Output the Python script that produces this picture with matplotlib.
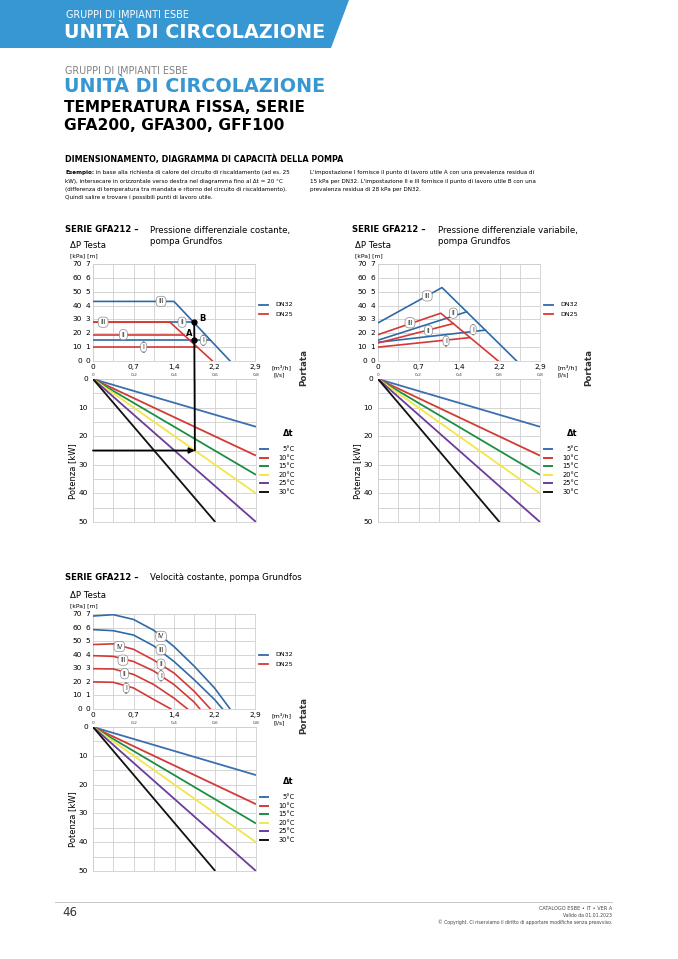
import numpy as np
import matplotlib

matplotlib.use("Agg")

import matplotlib.pyplot as plt
from matplotlib import transforms
from matplotlib.patches import ConnectionPatch, Polygon

W, H = 678, 959
BLUE = "#2f6aa6"
RED = "#d33a36"
BANNER = "#3797d3"
GRID = "#cfcfcf"

# ---- data ----
flow_ticks = [0, 0.2, 0.4, 0.6, 0.8]  # l/s
flow_m3h_labels = ["0", "0,7", "1,4", "2,2", "2,9"]
flow_ls_labels = ["0", "0,2", "0,4", "0,6", "0,8"]
head_kpa = [0, 10, 20, 30, 40, 50, 60, 70]
head_m = [0, 1, 2, 3, 4, 5, 6, 7]
power_ticks = [0, 10, 20, 30, 40, 50]

dt_labels = ["5°C", "10°C", "15°C", "20°C", "25°C", "30°C"]
dt_colors = ["#3a6fb0", "#d33a36", "#1d8f43", "#f2e64a", "#6a3d9a", "#111111"]
dt_flow_end = [0.8, 0.8, 0.8, 0.8, 0.8, 0.6]
dt_power_end = [16.7, 26.8, 33.5, 40, 50, 50]

# constant differential pressure (I, II, III)
cp_dn32_x = [[0, 0.58], [0, 0.497], [0, 0.4, 0.677]]
cp_dn32_y = [[15, 15], [28, 28], [43, 43, 0]]
cp_dn25_x = [[0, 0.515], [0, 0.447], [0, 0.38, 0.59]]
cp_dn25_y = [[10, 10], [19, 19], [28, 28, 0]]
work_flow = 0.5
work_power = 25
point_a = 15
point_b = 28

# variable differential pressure (I, II, III)
vp_dn32_x = [[0, 0.53], [0, 0.438], [0, 0.316, 0.685]]
vp_dn32_y = [[13.5, 22.3], [15, 35.5], [27.5, 53, 0]]
vp_dn25_x = [[0, 0.455], [0, 0.372], [0, 0.31, 0.594]]
vp_dn25_y = [[10, 16.9], [13, 27], [19, 34.5, 0]]

# constant speed (DN32: III, IV ; DN25: I..IV)
cs_dn32_x = [[0, 0.1, 0.2, 0.3, 0.4, 0.5, 0.6, 0.64],
             [0, 0.1, 0.2, 0.3, 0.4, 0.5, 0.6, 0.677]]
cs_dn32_y = [[58.5, 57.7, 54.5, 46.5, 35, 21.5, 7, 0],
             [68.5, 69.5, 66, 58, 46, 31.5, 15.5, 0]]
cs_dn25_x = [[0, 0.1, 0.2, 0.3, 0.385],
             [0, 0.1, 0.2, 0.3, 0.4, 0.467],
             [0, 0.1, 0.2, 0.3, 0.4, 0.5, 0.528],
             [0, 0.1, 0.2, 0.3, 0.4, 0.5, 0.58]]
cs_dn25_y = [[20, 19.7, 15.5, 7, 0],
             [29.7, 29.5, 25.5, 18, 8, 0],
             [39.3, 38.8, 35, 28, 18, 5, 0],
             [47.5, 48, 44, 36, 26.5, 13, 0]]

fig = plt.figure(figsize=(W / 100, H / 100), dpi=100)
bg = fig.add_axes([0, 0, 1, 1])
bg.set_xlim(0, W)
bg.set_ylim(H, 0)
bg.axis("off")


def add_axes_px(left, top, right, bottom):
    return fig.add_axes([left / W, 1 - bottom / H, (right - left) / W, (bottom - top) / H])


def shift(trans, dx, dy):
    return transforms.offset_copy(trans, fig=fig, x=dx, y=dy, units="dots")


def boxed(ax, x, y, s):
    ax.text(x, y, s, fontsize=4.8, ha="center", va="center", color="#333", zorder=5,
            bbox=dict(boxstyle="round,pad=0.32,rounding_size=0.6", fc="white", ec="#8a8a8a", lw=0.5))


def style_grid(ax):
    ax.grid(True, color=GRID, linewidth=0.6)
    ax.set_axisbelow(True)
    ax.tick_params(length=0, labelbottom=False, labelleft=False)
    for spine in ax.spines.values():
        spine.set_color(GRID)
        spine.set_linewidth(0.6)


def pressure_chart(left, top, right, bottom):
    ax = add_axes_px(left, top, right, bottom)
    ax.set_xlim(0, 0.8)
    ax.set_ylim(0, 70)
    ax.set_xticks(np.arange(0, 0.81, 0.1))
    ax.set_yticks(head_kpa)
    style_grid(ax)
    tr_kpa = shift(ax.get_yaxis_transform(), -11, 0)
    tr_m = shift(ax.get_yaxis_transform(), -5, 0)
    for kpa, m in zip(head_kpa, head_m):
        ax.text(0, kpa, str(kpa), transform=tr_kpa, ha="right", va="center", fontsize=5.3)
        ax.text(0, kpa, str(m), transform=tr_m, ha="center", va="center", fontsize=5.3)
    tr_x = shift(ax.get_xaxis_transform(), 0, -6)
    for v, lab in zip(flow_ticks, flow_m3h_labels):
        ax.text(v, 0, lab, transform=tr_x, ha="center", va="center", fontsize=5.3)
    ax.text(1, 0, "[m³/h]", transform=shift(ax.transAxes, 27, -6), ha="center", va="center", fontsize=4.6)
    # head label
    bg.text(left - 23, top - 19, "ΔP Testa", fontsize=6.2, ha="left", va="center")
    bg.text(left - 23, top - 8, "[kPa] [m]", fontsize=4.3, ha="left", va="center")
    # DN legend
    for i, (lab, col) in enumerate([("DN32", BLUE), ("DN25", RED)]):
        yy = top + 41 + 9 * i
        bg.plot([right + 4, right + 13], [yy, yy], color=col, lw=1.3)
        bg.text(right + 20, yy, lab, fontsize=4.6, ha="left", va="center")
    bg.text(right + 49, bottom + 7, "Portata", fontsize=6.3, rotation=90, ha="center", va="center",
            fontweight="bold", color="#333")
    return ax


def power_chart(left, top, right, bottom):
    ax = add_axes_px(left, top, right, bottom)
    ax.set_xlim(0, 0.8)
    ax.set_ylim(50, 0)
    ax.set_xticks(np.arange(0, 0.81, 0.1))
    ax.set_yticks(np.arange(0, 51, 5))
    style_grid(ax)
    tr_y = shift(ax.get_yaxis_transform(), -5, 0)
    for v in power_ticks:
        ax.text(0, v, str(v), transform=tr_y, ha="right", va="center", fontsize=5.3)
    tr_x = shift(ax.get_xaxis_transform(), 0, 4)
    for v, lab in zip(flow_ticks, flow_ls_labels):
        ax.text(v, 1, lab, transform=tr_x, ha="center", va="center", fontsize=3.2, color="#444")
    ax.text(1, 1, "[l/s]", transform=shift(ax.transAxes, 23, 4), ha="center", va="center", fontsize=4.2)
    for xe, pe, col in zip(dt_flow_end, dt_power_end, dt_colors):
        ax.plot([0, xe], [0, pe], color=col, lw=1.3, solid_capstyle="butt", zorder=3)
    bg.text(left - 20, top + 92, "Potenza [kW]", fontsize=6, rotation=90, ha="center", va="center")
    bg.text(right + 32, top + 54, "Δt", fontsize=6, fontweight="bold", ha="center", va="center")
    for i, (lab, col) in enumerate(zip(dt_labels, dt_colors)):
        yy = top + 70 + 8.6 * i
        bg.plot([right + 4, right + 12], [yy, yy], color=col, lw=1.4)
        bg.text(right + 39, yy, lab, fontsize=4.8, ha="right", va="center")
    return ax


# ---- page header ----
bg.add_patch(Polygon([[0, 0], [349, 0], [331, 48], [0, 48]], closed=True, fc=BANNER, ec="none"))
bg.text(66, 15, "GRUPPI DI IMPIANTI ESBE", color="white", fontsize=6.9, ha="left", va="center")
bg.text(64, 32, "UNITÀ DI CIRCOLAZIONE", color="white", fontsize=13.8, fontweight="heavy",
        ha="left", va="center")

bg.text(65, 71, "GRUPPI DI IMPIANTI ESBE", color="#808080", fontsize=6.9, ha="left", va="center")
bg.text(64, 87, "UNITÀ DI CIRCOLAZIONE", color=BANNER, fontsize=13.8, fontweight="heavy",
        ha="left", va="center")
bg.text(64, 107, "TEMPERATURA FISSA, SERIE", color="black", fontsize=11, fontweight="heavy",
        ha="left", va="center")
bg.text(64, 126, "GFA200, GFA300, GFF100", color="black", fontsize=11.2, fontweight="heavy",
        ha="left", va="center")

bg.text(65, 159, "DIMENSIONAMENTO, DIAGRAMMA DI CAPACITÀ DELLA POMPA", fontsize=5.75,
        fontweight="heavy", ha="left", va="center")

desc_fs = 4.05
t0 = bg.text(65, 175, "Esempio:", fontsize=desc_fs, fontweight="bold", ha="left", va="bottom")
bg.annotate(" in base alla richiesta di calore del circuito di riscaldamento (ad es. 25",
            xy=(1, 0), xycoords=t0, fontsize=desc_fs, ha="left", va="bottom")
left_lines = [
    "kW), intersecare in orizzontale verso destra nel diagramma fino al Δt = 20 °C",
    "(differenza di temperatura tra mandata e ritorno del circuito di riscaldamento).",
    "Quindi salire e trovare i possibili punti di lavoro utile.",
]
for i, line in enumerate(left_lines):
    bg.text(65, 175 + 8.5 * (i + 1), line, fontsize=desc_fs, ha="left", va="bottom")
right_lines = [
    "L'impostazione I fornisce il punto di lavoro utile A con una prevalenza residua di",
    "15 kPa per DN32. L'impostazione II e III fornisce il punto di lavoro utile B con una",
    "prevalenza residua di 28 kPa per DN32.",
]
for i, line in enumerate(right_lines):
    bg.text(310, 175 + 8.5 * i, line, fontsize=desc_fs, ha="left", va="bottom")

# ---- chart 1: constant differential pressure ----
bg.text(65, 230, "SERIE GFA212 –", fontsize=6.1, fontweight="heavy", ha="left", va="center")
bg.text(150, 230, "Pressione differenziale costante,", fontsize=6.2, ha="left", va="center")
bg.text(150, 242, "pompa Grundfos", fontsize=6.2, ha="left", va="center")
ax1 = pressure_chart(93, 264, 255, 361)
for xs, ys in zip(cp_dn32_x, cp_dn32_y):
    ax1.plot(xs, ys, color=BLUE, lw=1.2, zorder=3)
for xs, ys in zip(cp_dn25_x, cp_dn25_y):
    ax1.plot(xs, ys, color=RED, lw=1.2, zorder=3)
for x, y, s in [(0.336, 43, "III"), (0.05, 28, "III"), (0.44, 28, "II"), (0.15, 19, "II"),
                (0.545, 15, "I"), (0.25, 10, "I")]:
    boxed(ax1, x, y, s)
ax1.plot([work_flow, work_flow], [point_a, point_b], "o", color="black", ms=3.5, zorder=6)
ax1.text(work_flow - 0.025, point_a + 4.5, "A", fontsize=6, fontweight="bold", ha="center", va="center")
ax1.text(work_flow + 0.04, point_b + 2.5, "B", fontsize=6, fontweight="bold", ha="center", va="center")
ax1b = power_chart(93, 379, 256, 522)
ax1b.annotate("", xy=(work_flow, work_power), xytext=(0, work_power),
              arrowprops=dict(arrowstyle="-|>", color="black", lw=1.3, mutation_scale=8,
                              shrinkA=0, shrinkB=0), zorder=6)
con = ConnectionPatch(xyA=(work_flow, work_power), coordsA=ax1b.transData,
                      xyB=(work_flow, point_b), coordsB=ax1.transData,
                      color="black", lw=1.3, zorder=6)
fig.add_artist(con)

# ---- chart 2: variable differential pressure ----
bg.text(352, 230, "SERIE GFA212 –", fontsize=6.1, fontweight="heavy", ha="left", va="center")
bg.text(438, 230, "Pressione differenziale variabile,", fontsize=6.2, ha="left", va="center")
bg.text(438, 242, "pompa Grundfos", fontsize=6.2, ha="left", va="center")
ax2 = pressure_chart(378, 264, 540, 361)
for xs, ys in zip(vp_dn32_x, vp_dn32_y):
    ax2.plot(xs, ys, color=BLUE, lw=1.2, zorder=3)
for xs, ys in zip(vp_dn25_x, vp_dn25_y):
    ax2.plot(xs, ys, color=RED, lw=1.2, zorder=3)
for x, y, s in [(0.243, 47, "III"), (0.372, 34.5, "II"), (0.158, 27.6, "III"), (0.249, 22, "II"),
                (0.47, 22.6, "I"), (0.336, 14.5, "I")]:
    boxed(ax2, x, y, s)
power_chart(378, 379, 540, 522)

# ---- chart 3: constant speed ----
bg.text(65, 578, "SERIE GFA212 –", fontsize=6.1, fontweight="heavy", ha="left", va="center")
bg.text(150, 578, "Velocità costante, pompa Grundfos", fontsize=6.2, ha="left", va="center")
ax3 = pressure_chart(93, 614, 255, 709)
for xs, ys in zip(cs_dn32_x, cs_dn32_y):
    ax3.plot(xs, ys, color=BLUE, lw=1.2, zorder=3)
for xs, ys in zip(cs_dn25_x, cs_dn25_y):
    ax3.plot(xs, ys, color=RED, lw=1.2, zorder=3)
for x, y, s in [(0.336, 53.5, "IV"), (0.336, 43.7, "III"), (0.13, 46, "IV"), (0.148, 36, "III"),
                (0.156, 26, "II"), (0.164, 15.5, "I"), (0.336, 33, "II"), (0.336, 24.5, "I")]:
    boxed(ax3, x, y, s)
power_chart(93, 727, 256, 871)

# ---- footer ----
bg.plot([55, 612], [902, 902], color="#bbbbbb", lw=0.6)
bg.text(62, 912, "46", fontsize=8.5, ha="left", va="center", color="#333")
bg.text(612, 908, "CATALOGO ESBE • IT • VER A", fontsize=3.6, ha="right", va="center", color="#444")
bg.text(612, 915.5, "Valido da 01.01.2023", fontsize=3.3, ha="right", va="center", color="#444")
bg.text(612, 922.5, "© Copyright. Ci riserviamo il diritto di apportare modifiche senza preavviso.",
        fontsize=3.3, ha="right", va="center", color="#444")

fig.savefig("out.png", dpi=100, facecolor="white")
plt.close(fig)
